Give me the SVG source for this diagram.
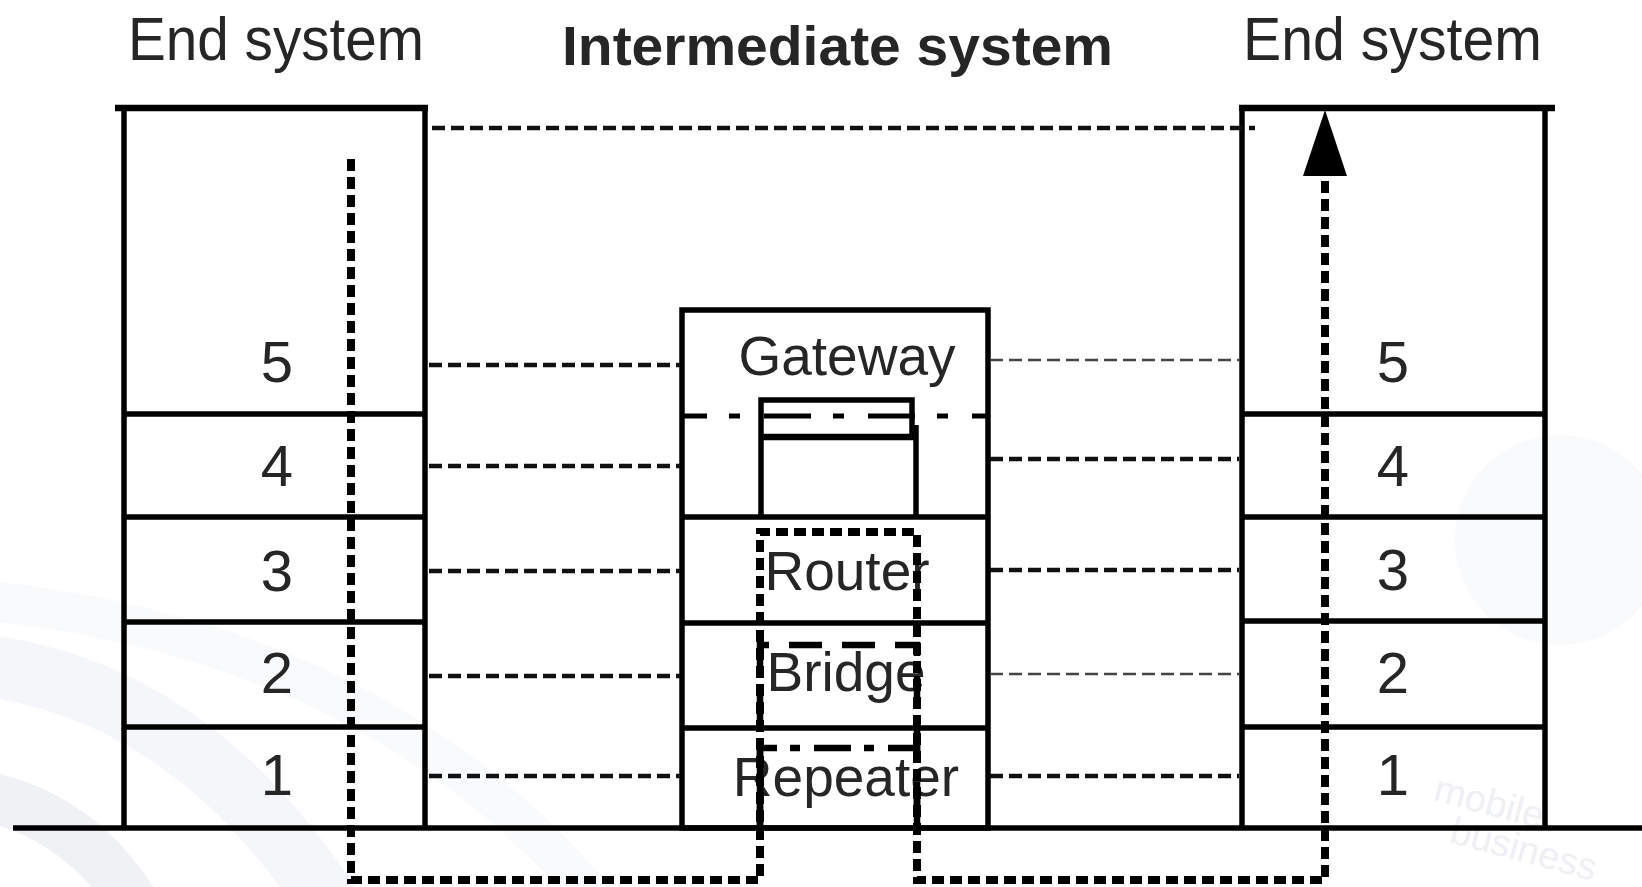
<svg xmlns="http://www.w3.org/2000/svg" width="1642" height="887" viewBox="0 0 1642 887">
<defs>
<style>
.ln{stroke:#000;stroke-width:5.5;fill:none}
.top{stroke:#000;stroke-width:6.5}
.lbl{font-family:"Liberation Sans",Arial,Helvetica,sans-serif;fill:#262626}
.num{font-size:58px;text-anchor:middle}
.dev{font-size:55px;text-anchor:middle}
.ttl{font-size:62px}
.peer{fill:none;stroke:#111;stroke-width:4.5;stroke-dasharray:13 6}
.peer-thin{fill:none;stroke:#444;stroke-width:2.5;stroke-dasharray:13 6}
.data{fill:none;stroke:#000;stroke-width:8;stroke-dasharray:12 6}
.wm{fill:none;stroke-linecap:butt}
</style>
</defs>
<rect width="1642" height="887" fill="#fff"/>
<g id="watermark">
<path class="wm" d="M-20 665 Q 190 690 330 905" stroke="#f5f6f9" stroke-width="62"/>
<path class="wm" d="M-20 795 Q 80 815 135 905" stroke="#f0f1f5" stroke-width="50"/>
<path class="wm" d="M-20 600 Q 380 640 600 905" stroke="#f9fafb" stroke-width="40"/>
<circle cx="1560" cy="540" r="105" fill="#f9fafb"/>
<text x="1432" y="800" transform="rotate(15 1432 800)" font-family="Liberation Sans, Arial, sans-serif" font-size="38" fill="#eef0f3">mobile</text>
<text x="1448" y="842" transform="rotate(15 1448 842)" font-family="Liberation Sans, Arial, sans-serif" font-size="38" fill="#eef0f3">business</text>
</g>
<g id="titles">
<text class="lbl ttl" x="128" y="60" textLength="296" lengthAdjust="spacingAndGlyphs">End system</text>
<text class="lbl" x="562" y="65" font-size="56" font-weight="bold" fill="#000" textLength="551" lengthAdjust="spacingAndGlyphs">Intermediate system</text>
<text class="lbl ttl" x="1243" y="60" textLength="299" lengthAdjust="spacingAndGlyphs">End system</text>
</g>
<g id="end-system-left">
<line class="top" x1="115" y1="108" x2="428" y2="108"/>
<line class="ln" x1="124" y1="108" x2="124" y2="828"/>
<line class="ln" x1="425" y1="108" x2="425" y2="828"/>
<line class="ln" x1="124" y1="414" x2="425" y2="414"/>
<line class="ln" x1="124" y1="517" x2="425" y2="517"/>
<line class="ln" x1="124" y1="622" x2="425" y2="622"/>
<line class="ln" x1="124" y1="727" x2="425" y2="727"/>
<text class="lbl num" x="277" y="382">5</text>
<text class="lbl num" x="277" y="486">4</text>
<text class="lbl num" x="277" y="591">3</text>
<text class="lbl num" x="277" y="693">2</text>
<text class="lbl num" x="277" y="795">1</text>
</g>
<g id="end-system-right">
<line class="top" x1="1239" y1="108" x2="1555" y2="108"/>
<line class="ln" x1="1242" y1="108" x2="1242" y2="828"/>
<line class="ln" x1="1545" y1="108" x2="1545" y2="828"/>
<line class="ln" x1="1242" y1="414" x2="1545" y2="414"/>
<line class="ln" x1="1242" y1="517" x2="1545" y2="517"/>
<line class="ln" x1="1242" y1="621" x2="1545" y2="621"/>
<line class="ln" x1="1242" y1="727" x2="1545" y2="727"/>
<text class="lbl num" x="1393" y="382">5</text>
<text class="lbl num" x="1393" y="486">4</text>
<text class="lbl num" x="1393" y="590">3</text>
<text class="lbl num" x="1393" y="693">2</text>
<text class="lbl num" x="1393" y="795">1</text>
</g>
<g id="intermediate-system">
<rect class="ln" x="682" y="310" width="306" height="518"/>
<line class="ln" x1="682" y1="517" x2="988" y2="517"/>
<line class="ln" x1="682" y1="623" x2="988" y2="623"/>
<line class="ln" x1="682" y1="728" x2="988" y2="728"/>
<line x1="682" y1="416" x2="988" y2="416" stroke="#000" stroke-width="5" stroke-dasharray="47 22 11 24" stroke-dashoffset="22"/>
<text class="lbl dev" x="847" y="375">Gateway</text>
<text class="lbl dev" x="847" y="590">Router</text>
<text class="lbl dev" x="846" y="691">Bridge</text>
<text class="lbl dev" x="846" y="796">Repeater</text>
</g>
<line id="ground" x1="13" y1="828" x2="1642" y2="828" stroke="#000" stroke-width="5.5"/>
<g id="connectors">
<line class="peer" x1="432" y1="128" x2="1255" y2="128"/>
<line class="peer" x1="429" y1="365" x2="680" y2="365"/>
<line class="peer" x1="429" y1="466" x2="680" y2="466"/>
<line class="peer" x1="429" y1="571" x2="680" y2="571"/>
<line class="peer" x1="429" y1="676" x2="680" y2="676"/>
<line class="peer" x1="429" y1="776" x2="680" y2="776"/>
<line class="peer-thin" x1="990" y1="360" x2="1239" y2="360"/>
<line class="peer" x1="990" y1="459" x2="1239" y2="459"/>
<line class="peer" x1="990" y1="570" x2="1239" y2="570"/>
<line class="peer-thin" x1="990" y1="674" x2="1239" y2="674"/>
<line class="peer" x1="990" y1="776" x2="1239" y2="776"/>
</g>
<g id="data-paths">
<path class="ln" d="M761 517 V400 H912 V437"/>
<line x1="759" y1="437" x2="914" y2="437" stroke="#000" stroke-width="6.5"/>
<line class="ln" x1="916" y1="425" x2="916" y2="517"/>
<path d="M760 828 V645 H917 V828" fill="none" stroke="#000" stroke-width="6.5" stroke-dasharray="33 20"/>
<path d="M760 828 V748 H917 V828" fill="none" stroke="#000" stroke-width="6.5" stroke-dasharray="37 13 10 14" stroke-dashoffset="14"/>
<path class="data" d="M351 159 V880 H760 V532 H917 V880 H1325 V174"/>
<polygon points="1325,110 1303,176 1347,176" fill="#000"/>
</g>
</svg>
